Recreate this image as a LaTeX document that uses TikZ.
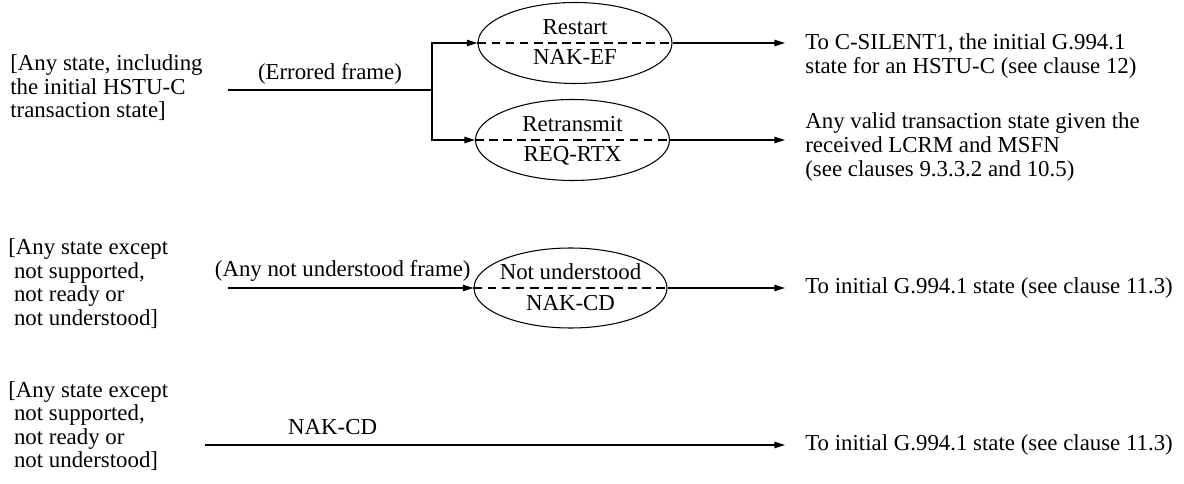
\documentclass[tikz,border=0pt]{standalone}
\usepackage{fontspec}
\setmainfont{Liberation Serif}
\usetikzlibrary{positioning}
\usetikzlibrary{arrows.meta}
\usetikzlibrary{shapes.geometric}

\begin{document}
\begin{tikzpicture}[
    every node/.style={font=\fontsize{13}{13.4}\selectfont, inner sep=0pt},
    state/.style={draw, ellipse, line width=0.6pt, minimum width=3.88cm, minimum height=1.62cm},
    split/.style={dash pattern=on 5pt off 3pt, line width=0.6pt},
    flow/.style={line width=0.8pt},
    arr/.style={flow, -{Triangle[length=6pt,width=3.6pt]}},
    cond/.style={align=left, anchor=west},
    dest/.style={align=left, anchor=west}
]
\useasboundingbox (0,0) rectangle (23.68,-9.68);

% errored frame
\node[cond] (any1) at (0.2,-1.76) {[Any state, including\\the initial HSTU-C\\transaction state]};
\coordinate (s1) at (4.56,-1.8);
\coordinate (j1) at (8.64,-1.8);
\node[state] (rst) at (11.5,-0.86) {};
\node[state] (rtx) at (11.45,-2.8) {};
\node[anchor=base] (rstup) at ([yshift=0.16cm]rst.center) {Restart};
\node[anchor=base] (rstlo) at ([yshift=-0.44cm]rst.center) {NAK-EF};
\node[anchor=base] (rtxup) at ([yshift=0.16cm]rtx.center) {Retransmit};
\node[anchor=base] (rtxlo) at ([yshift=-0.44cm]rtx.center) {REQ-RTX};
\draw[split] (rst.west) -- (rst.east);
\draw[split] (rtx.west) -- (rtx.east);
\draw[flow] (s1) -- node[above=0.1cm] (ef) {(Errored frame)} (j1);
\draw[arr] (j1) |- (rst.west);
\draw[arr] (j1) |- (rtx.west);
\node[dest] (d1) at (16.1,-1.12) {To C-SILENT1, the initial G.994.1\\state for an HSTU-C (see clause 12)};
\node[dest] (d2) at (16.1,-2.94) {Any valid transaction state given the\\received LCRM and MSFN\\(see clauses 9.3.3.2 and 10.5)};
\coordinate (tip1) at (15.7,-0.86);
\coordinate (tip2) at (15.7,-2.8);
\draw[arr] (rst.east) -- (tip1);
\draw[arr] (rtx.east) -- (tip2);

% not understood frame
\node[cond] (any2) at (0.16,-5.67) {[Any state except\\\hspace*{0.25em}not supported,\\\hspace*{0.25em}not ready or\\\hspace*{0.25em}not understood]};
\coordinate (s2) at (4.56,-5.76);
\node[state, minimum width=3.86cm, minimum height=1.6cm] (nu) at (11.41,-5.76) {};
\node[anchor=base] (nuup) at ([yshift=0.16cm]nu.center) {Not understood};
\node[anchor=base] (nulo) at ([yshift=-0.44cm]nu.center) {NAK-CD};
\draw[split] (nu.west) -- (nu.east);
\draw[arr] (s2) -- node[above=0.12cm, xshift=-0.16cm] (anf) {(Any not understood frame)} (nu.west);
\node[dest] (d3) at (16.1,-5.76) {To initial G.994.1 state (see clause 11.3)};
\coordinate (tip3) at (15.7,-5.76);
\draw[arr] (nu.east) -- (tip3);

% NAK-CD sent
\node[cond] (any3) at (0.16,-8.52) {[Any state except\\\hspace*{0.25em}not supported,\\\hspace*{0.25em}not ready or\\\hspace*{0.25em}not understood]};
\coordinate (s3) at (4.1,-8.9);
\node[dest] (d4) at (16.1,-8.9) {To initial G.994.1 state (see clause 11.3)};
\coordinate (tip4) at (15.7,-8.9);
\draw[arr] (s3) -- node[pos=0.22, above=0.19cm] (nak) {NAK-CD} (tip4);
\end{tikzpicture}
\end{document}
